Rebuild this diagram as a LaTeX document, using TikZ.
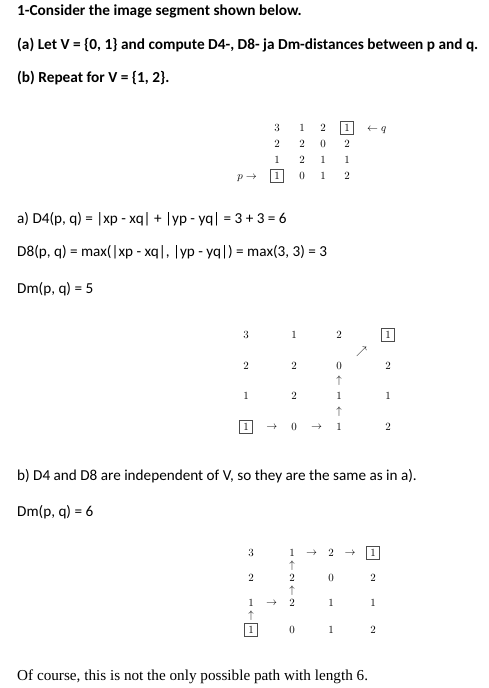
\documentclass[tikz,border=0pt]{standalone}
\usepackage{fontspec}
\setmainfont{Carlito}
\newfontfamily\timesfont{Liberation Serif}
\begin{document}
\begin{tikzpicture}[x=1pt,y=-1pt,
  txt/.style={anchor=base west,inner sep=0pt,font=\fontsize{15.2}{18}\selectfont},
  ttl/.style={anchor=base west,inner sep=0pt,font=\fontsize{15.3}{18}\selectfont\bfseries},
  ent/.style={inner sep=0pt,font=\fontsize{10.5}{12}\selectfont},
  boxed/.style={ent,draw=black!70,line width=0.5pt,minimum width=13pt,minimum height=13pt},
  glyph/.style={midway,inner sep=0pt,font=\fontsize{10.5}{12}\selectfont}]
\useasboundingbox (0,0) rectangle (489,688);
% texts
\node[ttl] (t1) at (17,15) {1-Consider the image segment shown below.};
\node[ttl] (t2) at (17,49) {(a) Let V = \{0, 1\} and compute D4-, D8- ja Dm-distances between p and q.};
\node[ttl] (t3) at (17,82) {(b) Repeat for V = \{1, 2\}.};
\node[txt] (a1) at (17,223) {a) D4(p, q) = |xp - xq| + |yp - yq| = 3 + 3 = 6};
\node[txt] (a2) at (17,256) {D8(p, q) = max(|xp - xq|, |yp - yq|) = max(3, 3) = 3};
\node[txt] (a3) at (17,293) {Dm(p, q) = 5};
\node[txt] (b1) at (17,480) {b) D4 and D8 are independent of V, so they are the same as in a).};
\node[txt] (b2) at (17,516) {Dm(p, q) = 6};
\node[anchor=base west,inner sep=0pt,font=\timesfont\fontsize{15.2}{18}\selectfont] (c1) at (17,680) {Of course, this is not the only possible path with length 6.};
% matrix 1
\node[ent] (A11) at (277,128) {$3$};
\node[ent] (A12) at (302,128) {$1$};
\node[ent] (A13) at (323,128) {$2$};
\node[boxed] (A14) at (347,128) {$1$};
\node[ent] (A21) at (277,144) {$2$};
\node[ent] (A22) at (302,144) {$2$};
\node[ent] (A23) at (323,144) {$0$};
\node[ent] (A24) at (347,144) {$2$};
\node[ent] (A31) at (277,160) {$1$};
\node[ent] (A32) at (302,160) {$2$};
\node[ent] (A33) at (323,160) {$1$};
\node[ent] (A34) at (347,160) {$1$};
\node[boxed] (A41) at (277,176) {$1$};
\node[ent] (A42) at (302,176) {$0$};
\node[ent] (A43) at (323,176) {$1$};
\node[ent] (A44) at (347,176) {$2$};
\node[ent,anchor=base east] (p) at (257,179.4) {$p\rightarrow$};
\node[ent,anchor=base west] (q) at (367,131.4) {$\leftarrow q$};
% matrix 2
\node[ent] (B11) at (246,335) {$3$};
\node[ent] (B12) at (294,335) {$1$};
\node[ent] (B13) at (339,335) {$2$};
\node[boxed] (B14) at (388,335) {$1$};
\node[ent] (B21) at (246,366) {$2$};
\node[ent] (B22) at (294,366) {$2$};
\node[ent] (B23) at (339,366) {$0$};
\node[ent] (B24) at (388,366) {$2$};
\node[ent] (B31) at (246,396) {$1$};
\node[ent] (B32) at (294,396) {$2$};
\node[ent] (B33) at (339,396) {$1$};
\node[ent] (B34) at (388,396) {$1$};
\node[boxed] (B41) at (246,427) {$1$};
\node[ent] (B42) at (294,427) {$0$};
\node[ent] (B43) at (339,427) {$1$};
\node[ent] (B44) at (388,427) {$2$};
\path (B41) -- (B42) node[glyph] {$\rightarrow$};
\path (B42) -- (B43) node[glyph] {$\rightarrow$};
\path (B43) -- (B33) node[glyph] {$\uparrow$};
\path (B33) -- (B23) node[glyph] {$\uparrow$};
\path (B23) -- (B14) node[glyph] {$\nearrow$};
% matrix 3
\node[ent] (C11) at (251,553) {$3$};
\node[ent] (C12) at (292,553) {$1$};
\node[ent] (C13) at (331,553) {$2$};
\node[boxed] (C14) at (373,553) {$1$};
\node[ent] (C21) at (251,578) {$2$};
\node[ent] (C22) at (292,578) {$2$};
\node[ent] (C23) at (331,578) {$0$};
\node[ent] (C24) at (373,578) {$2$};
\node[ent] (C31) at (251,603) {$1$};
\node[ent] (C32) at (292,603) {$2$};
\node[ent] (C33) at (331,603) {$1$};
\node[ent] (C34) at (373,603) {$1$};
\node[boxed] (C41) at (251,630) {$1$};
\node[ent] (C42) at (292,630) {$0$};
\node[ent] (C43) at (331,630) {$1$};
\node[ent] (C44) at (373,630) {$2$};
\path (C41) -- (C31) node[glyph,pos=0.45] {$\uparrow$};
\path (C31) -- (C32) node[glyph] {$\rightarrow$};
\path (C32) -- (C22) node[glyph] {$\uparrow$};
\path (C22) -- (C12) node[glyph] {$\uparrow$};
\path (C12) -- (C13) node[glyph] {$\rightarrow$};
\path (C13) -- (C14) node[glyph] {$\rightarrow$};
\end{tikzpicture}
\end{document}
